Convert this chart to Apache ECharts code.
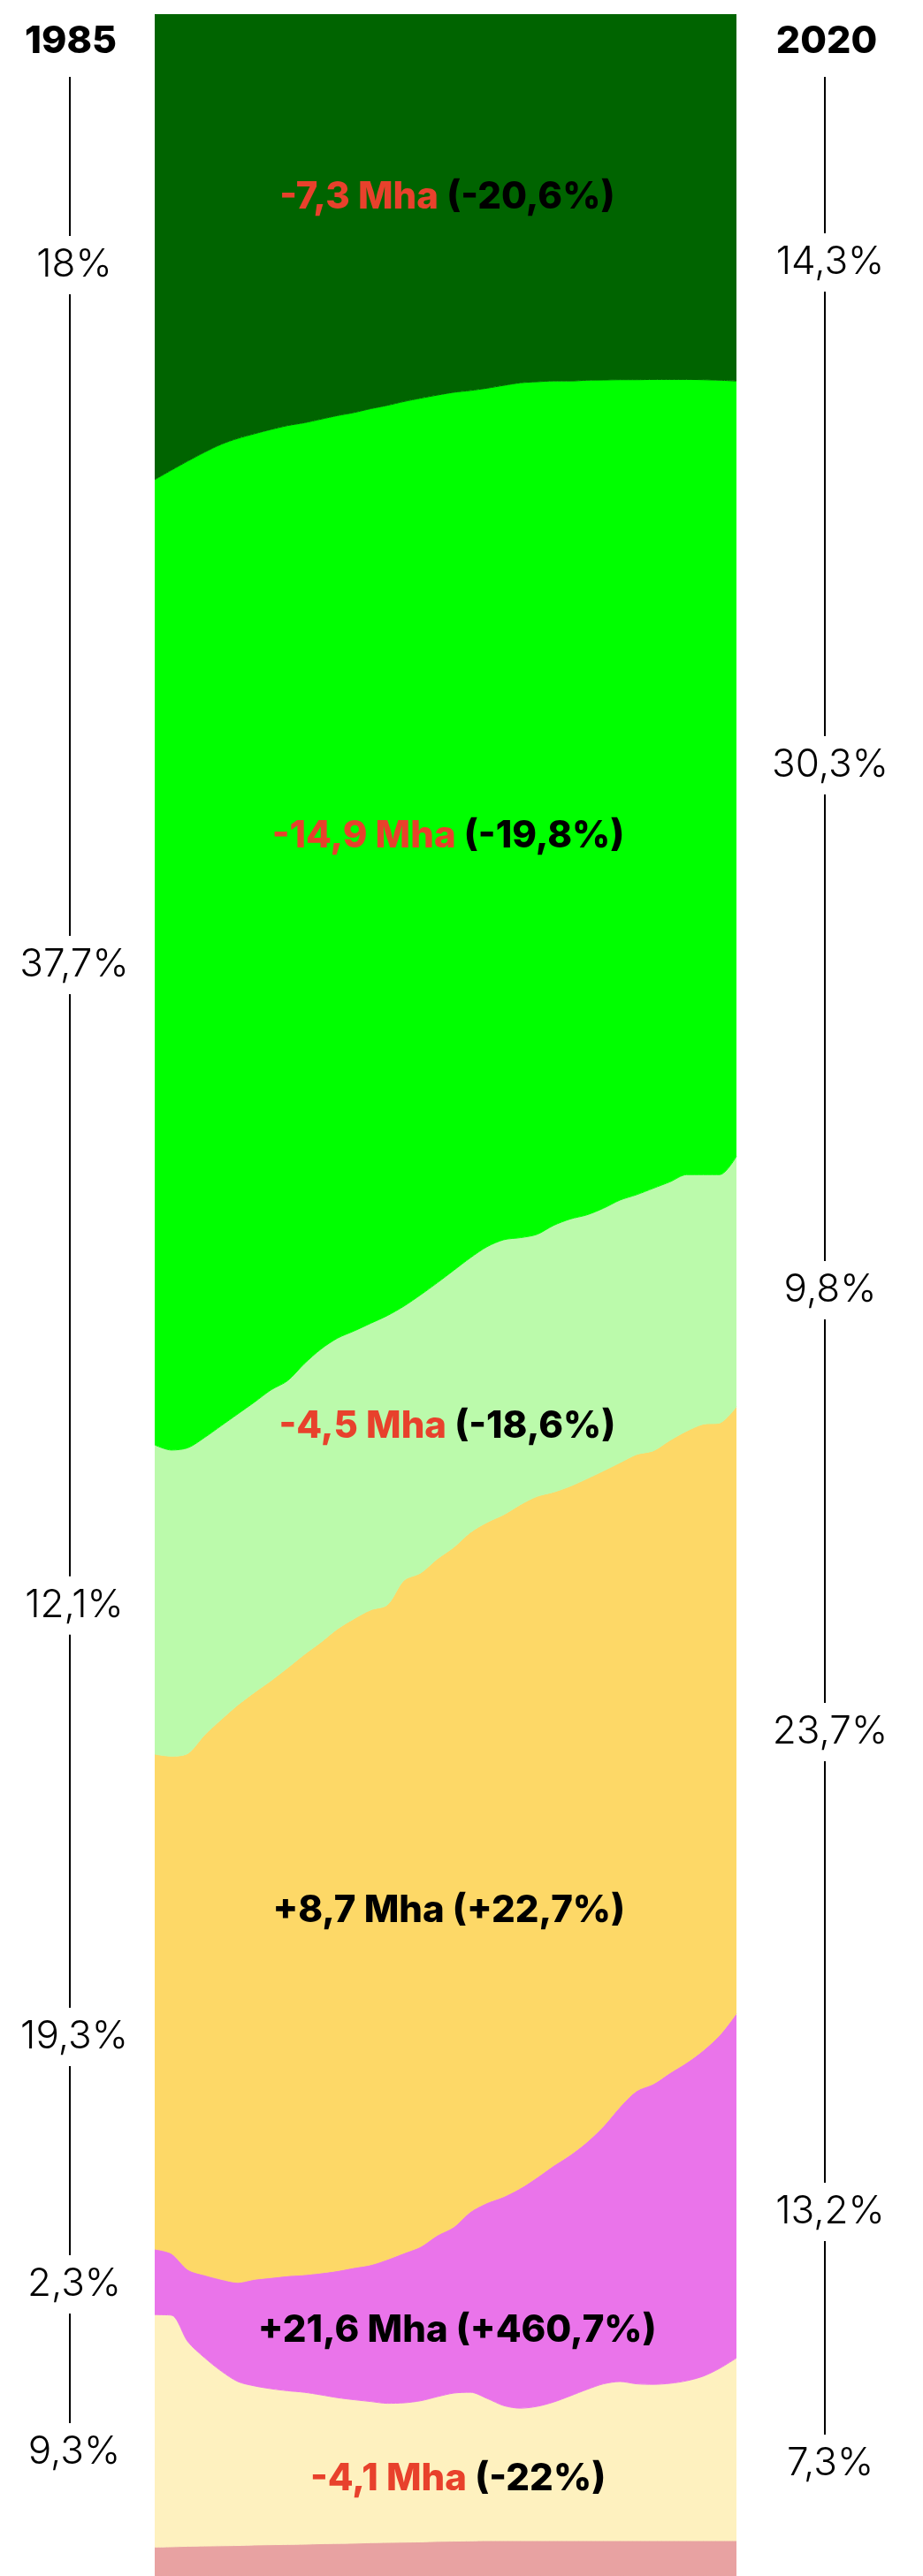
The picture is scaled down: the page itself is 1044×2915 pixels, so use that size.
<!DOCTYPE html>
<html>
<head>
<meta charset="utf-8">
<script src="https://cdn.jsdelivr.net/npm/echarts@6/dist/echarts.min.js"></script>
<style>
html,body{margin:0;padding:0;background:#fff;}
#c{width:1044px;height:2915px;}
</style>
</head>
<body>
<div id="c"></div>
<script>
// ---- categories ----
const years = [1985,1986,1987,1988,1989,1990,1991,1992,1993,1994,1995,1996,1997,1998,1999,2000,
  2001,2002,2003,2004,2005,2006,2007,2008,2009,2010,2011,2012,2013,2014,2015,2016,2017,2018,2019,2020];

// ---- series values (share of area, %) ----
const darkGreen = [18.17,17.80,17.44,17.10,16.79,16.56,16.38,16.21,16.06,15.95,15.81,15.67,15.55,15.40,15.27,15.12,
  14.99,14.87,14.76,14.69,14.60,14.49,14.39,14.35,14.32,14.32,14.29,14.28,14.27,14.27,14.26,14.26,14.26,14.27,14.29,14.32];
const brightGreen = [37.68,38.25,38.52,38.46,38.31,38.08,37.80,37.49,37.28,36.73,36.30,36.01,35.85,35.70,35.53,35.31,
  35.00,34.65,34.27,33.85,33.51,33.35,33.37,33.28,32.96,32.71,32.58,32.33,32.02,31.81,31.57,31.32,31.04,31.03,31.01,30.26];
const lightGreen = [12.07,11.95,11.93,11.61,11.47,11.36,11.33,11.35,11.21,11.35,11.44,11.35,11.23,11.19,11.29,10.70,
  10.86,10.78,10.81,10.72,10.76,10.73,10.42,10.23,10.41,10.43,10.30,10.25,10.25,10.14,10.25,10.09,10.01,9.74,9.69,9.77];
const yellow = [19.32,19.41,20.15,21.08,21.85,22.54,22.91,23.30,23.73,24.21,24.62,25.05,25.33,25.56,25.55,26.26,
  26.29,26.40,26.53,26.52,26.56,26.62,26.68,26.58,26.29,26.10,25.89,25.58,25.14,24.84,24.71,24.69,24.65,24.44,23.89,23.69];
const magenta = [2.56,2.41,2.82,3.23,3.58,3.87,4.16,4.34,4.49,4.59,4.76,4.96,5.16,5.34,5.62,5.85,
  6.02,6.30,6.49,7.05,7.64,8.16,8.59,8.94,9.23,9.41,9.66,10.06,10.73,11.44,11.73,12.12,12.42,12.72,13.01,13.45];
const cream = [9.07,9.04,7.98,7.35,6.82,6.40,6.21,6.09,6.00,5.93,5.81,5.69,5.60,5.51,5.43,5.44,
  5.51,5.65,5.78,5.80,5.55,5.27,5.17,5.24,5.41,5.65,5.90,6.12,6.21,6.12,6.10,6.14,6.24,6.42,6.73,7.13];
const pink = [1.13,1.14,1.16,1.17,1.18,1.19,1.21,1.22,1.23,1.24,1.26,1.27,1.28,1.30,1.31,1.32,
  1.33,1.35,1.36,1.37,1.38,1.38,1.38,1.38,1.38,1.38,1.38,1.38,1.38,1.38,1.38,1.38,1.38,1.38,1.38,1.38];

// ---- side tick labels ----
const startYear = '1985';
const endYear = '2020';
const leftLabels = ['18%','37,7%','12,1%','19,3%','2,3%','9,3%'];
const leftLabelAt = [9.80,37.12,62.12,78.96,88.62,95.17];
const rightLabels = ['14,3%','30,3%','9,8%','23,7%','13,2%','7,3%'];
const rightLabelAt = [9.69,29.32,49.81,67.06,85.79,95.62];
const yearLabelAt = 1.07;

// ---- change annotations ----
const annChange = ['-7,3 Mha','-14,9 Mha','-4,5 Mha','+8,7 Mha','+21,6 Mha','-4,1 Mha'];
const annPct = ['(-20,6%)','(-19,8%)','(-18,6%)','(+22,7%)','(+460,7%)','(-22%)'];
const annYear = [2002.6,2002.66,2002.6,2002.7,2003.2,2003.25];
const annAt = [7.14,32.08,55.12,74.03,90.41,96.21];

const colors = ['#006400','#00ff00','#bbfaab','#fdd867','#ea74ea','#fef1bf','#e8a2a2'];
const layers = [darkGreen, brightGreen, lightGreen, yellow, magenta, cream, pink];

const chart = echarts.init(document.getElementById('c'), null, {renderer:'canvas'});
const G = {left:175, top:16, width:658, height:2899};

const areaSeries = layers.map((vals, i) => ({
  type:'line', stack:'total', data: vals, smooth:0.3, showSymbol:false, symbol:'none',
  lineStyle:{width:1, color:colors[i]}, areaStyle:{color:colors[i], opacity:1},
  itemStyle:{color:colors[i]}, silent:true, z:2
}));

const annData = annChange.map((c,i)=>({value:[annYear[i], annAt[i]], change:c, pct:annPct[i]}));
const txt = (color) => ({color:color, fontFamily:'Inter', fontWeight:800, fontSize:42,
  textBorderWidth:0, textBorderColor:'transparent', textShadowBlur:0, opacity:1});

chart.setOption({
  animation:false,
  backgroundColor:'#fff',
  grid:{left:G.left, top:G.top, width:G.width, height:G.height},
  xAxis:[
    {type:'category', data:years, boundaryGap:false, show:false},
    {type:'value', min:1985, max:2020, show:false}
  ],
  yAxis:{type:'value', min:0, max:100, inverse:true, show:false},
  series: areaSeries.concat([{
    type:'scatter', xAxisIndex:1, data:annData, symbolSize:0, silent:true, z:5, clip:false,
    itemStyle:{color:'transparent', opacity:1},
    label:{
      show:true, position:'inside', color:'#000', textBorderWidth:0, textBorderColor:'transparent',
      opacity:1,
      formatter: p => {
        const neg = p.data.change.charAt(0) === '-';
        return '{' + (neg ? 'r' : 'b') + '|' + p.data.change + '}{s| }{b|' + p.data.pct + '}';
      },
      rich:{ r:txt('#e8412c'), b:txt('#000000'), s:txt('#000000') }
    }
  }])
});

// side axis labels & segmented lines
const py = v => chart.convertToPixel({yAxisIndex:0}, v);
const leftX = G.left - 96, rightX = G.left + G.width + 100;
const gfx = [];
function side(lineX, textX, yearText, labels, at) {
  const yy = py(yearLabelAt);
  gfx.push({type:'text', style:{text:yearText, x:textX - 4, y:yy, font:'800 43px Inter', fill:'#000', align:'center', verticalAlign:'middle'}});
  let prev = yy + 40;
  labels.forEach((t, i) => {
    const y = py(at[i]);
    gfx.push({type:'line', shape:{x1:lineX, y1:prev, x2:lineX, y2:y - 33}, style:{stroke:'#000', lineWidth:2}});
    gfx.push({type:'text', style:{text:t, x:textX, y:y, font:'300 44px Inter', fill:'#000', align:'center', verticalAlign:'middle'}});
    prev = y + 33;
  });
}
side(leftX, leftX + 5, startYear, leftLabels, leftLabelAt);
side(rightX, rightX + 6, endYear, rightLabels, rightLabelAt);
chart.setOption({graphic: gfx});
</script>
</body>
</html>
